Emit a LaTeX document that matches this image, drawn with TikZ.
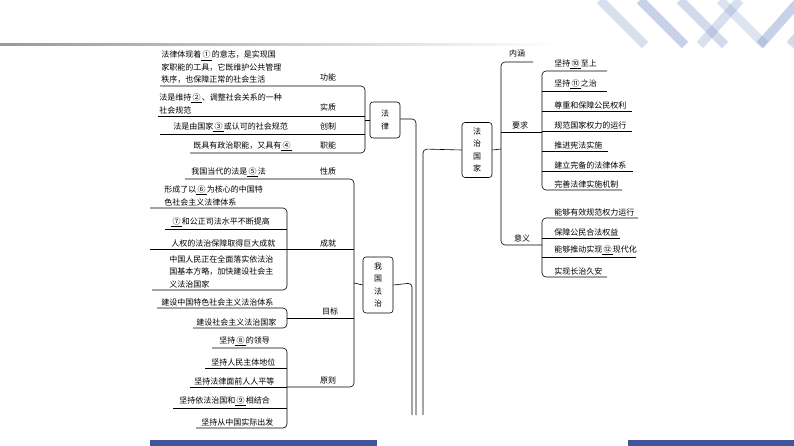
\documentclass[tikz,border=0pt]{standalone}
\usepackage{fontspec}
\setmainfont{Noto Sans CJK SC}
\usepackage{tikz}
\usetikzlibrary{positioning}
\newcommand{\blank}[1]{\underline{\,#1\,}}
\definecolor{barblue}{HTML}{3F5597}
\definecolor{stripe}{HTML}{8FA3CF}
\begin{document}
\begin{tikzpicture}[x=1pt,y=-1pt,line width=0.6pt,rounded corners=4pt,
    every node/.style={font=\fontsize{8}{12.5}\selectfont,inner sep=1pt},
    leaf/.style={anchor=south west,align=left},
    tag/.style={anchor=center},
    hub/.style={draw,rounded corners=3pt,minimum width=30pt,align=center,inner sep=3pt}]
\useasboundingbox (0,0) rectangle (794,446);
% decoration
\shade[left color=gray!80,right color=white,sharp corners] (0,43.5) rectangle (560,45.5);
\foreach \a/\o in {600/0.35,640/0.5,680/0.4,720/0.3}
  \draw[stripe,line width=9pt,opacity=\o,sharp corners] (\a,0) -- (\a+45,45);
\foreach \a/\o in {700/0.35,760/0.5,790/0.4}
  \draw[stripe,line width=9pt,opacity=\o,sharp corners] (\a,45) -- (\a+40,0);
\fill[barblue,sharp corners] (150,440) rectangle (377,446);
\fill[barblue,sharp corners] (628,440) rectangle (794,446);
% hubs
\node[hub,minimum height=36pt] (law) at (385,120) {法\\律};
\node[hub,minimum height=56pt] (ours) at (378,285) {我\\国\\法\\治};
\node[hub,minimum height=55pt] (state) at (477,150) {法\\治\\国\\家};
% trunk
\draw (law.east |- 0,119) -- (416,119) -- (416,415);
\draw (ours.east) -- (412,283) -- (412,415);
\draw (state.west) -- (423,149) -- (423,415);
% law
\node[leaf] (f1) at (160,85) {法律体现着\blank{①}的意志，是实现国\\家职能的工具，它既维护公共管理\\秩序，也保障正常的社会生活};
\node[leaf] (f2) at (158,115) {法是维持\blank{②}、调整社会关系的一种\\社会规范};
\node[leaf] (f3) at (172,133) {法是由国家\blank{③}或认可的社会规范};
\node[leaf] (f4) at (192,152) {既具有政治职能，又具有\blank{④}};
\node[tag] (t1) at (328,77) {功能};
\node[tag] (t2) at (328,107) {实质};
\node[tag] (t3) at (328,126) {创制};
\node[tag] (t4) at (328,145) {职能};
\draw (160,86) -- (365,86) -- (365,153) -- (190,153);
\draw[sharp corners] (158,116) -- (365,116);
\draw[sharp corners] (160,134) -- (365,134);
\draw (365,120) -- (law.west);
% ours
\node[tag] (o1) at (328,171) {性质};
\node[tag] (o2) at (328,243) {成就};
\node[tag] (o3) at (330,311) {目标};
\node[tag] (o4) at (328,380) {原则};
\draw (185,179) -- (354,179) -- (354,387) -- (287,387);
\draw[sharp corners] (287,249) -- (354,249);
\draw[sharp corners] (287,318) -- (354,318);
\draw (354,283) -- (ours.west);
\node[leaf] (w1) at (190,178) {我国当代的法是\blank{⑤}法};
\node[leaf] (c1) at (163,207) {形成了以\blank{⑥}为核心的中国特\\色社会主义法律体系};
\node[leaf] (c2) at (170,228) {\blank{⑦}和公正司法水平不断提高};
\node[leaf] (c3) at (170,248) {人权的法治保障取得巨大成就};
\node[leaf] (c4) at (168,289) {中国人民正在全面落实依法治\\国基本方略，加快建设社会主\\义法治国家};
\draw (150,208) -- (287,208) -- (287,290) -- (152,290);
\draw[sharp corners] (165,229) -- (287,229);
\draw[sharp corners] (150,249) -- (287,249);
\node[leaf] (g1) at (160,307) {建设中国特色社会主义法治体系};
\node[leaf] (g2) at (195,327) {建设社会主义法治国家};
\draw (157,308) -- (287,308) -- (287,328) -- (193,328);
\node[leaf] (p1) at (218,347) {坚持\blank{⑧}的领导};
\node[leaf] (p2) at (210,367) {坚持人民主体地位};
\node[leaf] (p3) at (193,386) {坚持法律面前人人平等};
\node[leaf] (p4) at (178,407) {坚持依法治国和\blank{⑨}相结合};
\node[leaf] (p5) at (200,427) {坚持从中国实际出发};
\draw (212,348) -- (287,348) -- (287,428) -- (196,428);
\draw[sharp corners] (205,368) -- (287,368);
\draw[sharp corners] (190,387) -- (287,387);
\draw[sharp corners] (173,408) -- (287,408);
% state
\draw (state.east) -- (501,149);
\draw (533,62) -- (501,62) -- (501,245) -- (542,245);
\draw[sharp corners] (501,132) -- (542,132);
\node[tag] (s1) at (517,53) {内涵};
\node[tag] (s2) at (520,125) {要求};
\node[tag] (s3) at (522,238) {意义};
\node[leaf] (r1) at (553,70) {坚持\blank{⑩}至上};
\node[leaf] (r2) at (553,90) {坚持\blank{⑪}之治};
\node[leaf] (r3) at (553,110) {尊重和保障公民权利};
\node[leaf] (r4) at (553,130) {规范国家权力的运行};
\node[leaf] (r5) at (553,150) {推进宪法实施};
\node[leaf] (r6) at (553,170) {建立完备的法律体系};
\node[leaf] (r7) at (553,189) {完善法律实施机制};
\draw (607,71) -- (542,71) -- (542,190) -- (622,190);
\foreach \y/\e in {91/607,111/632,131/632,151/608,171/633}
  \draw[sharp corners] (542,\y) -- (\e,\y);
\node[leaf] (m1) at (553,217) {能够有效规范权力运行};
\node[leaf] (m2) at (553,237) {保障公民合法权益};
\node[leaf] (m3) at (553,256) {能够推动实现\blank{⑫}现代化};
\node[leaf] (m4) at (553,276) {实现长治久安};
\draw (638,218) -- (542,218) -- (542,277) -- (607,277);
\foreach \y/\e in {238/620,257/636}
  \draw[sharp corners] (542,\y) -- (\e,\y);
\end{tikzpicture}
\end{document}
